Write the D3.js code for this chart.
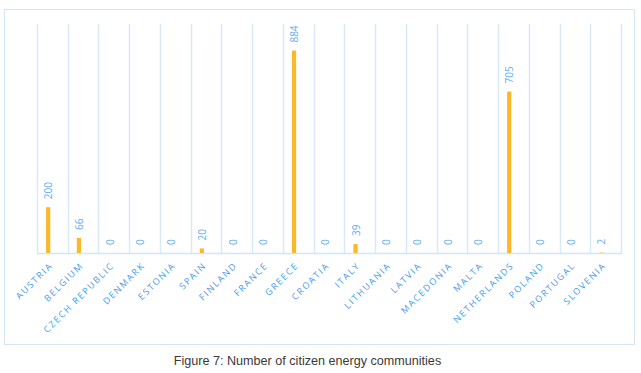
<!DOCTYPE html>
<html>
<head>
<meta charset="utf-8">
<script src="https://cdn.jsdelivr.net/npm/d3@7"></script>
<style>
    body { margin: 0; background: #fff; }
    svg { display: block; }
</style>
</head>
<body>
<svg id="chart" width="641" height="373"></svg>
<script>
    // Data
    const countries = ['AUSTRIA', 'BELGIUM', 'CZECH REPUBLIC', 'DENMARK', 'ESTONIA', 'SPAIN', 'FINLAND',
        'FRANCE', 'GREECE', 'CROATIA', 'ITALY', 'LITHUANIA', 'LATVIA', 'MACEDONIA', 'MALTA',
        'NETHERLANDS', 'POLAND', 'PORTUGAL', 'SLOVENIA'];
    const communities = [200, 66, 0, 0, 0, 20, 0, 0, 884, 0, 39, 0, 0, 0, 0, 705, 0, 0, 2];
    const yDomain = [0, 1000];
    const caption = 'Figure 7: Number of citizen energy communities';

    const svg = d3.select('#chart');
    const plot = { left: 37, right: 621, top: 24, bottom: 253 };

    // Outer frame
    svg.append('rect')
        .attr('x', 4.5).attr('y', 9.5)
        .attr('width', 630).attr('height', 335)
        .attr('fill', 'none')
        .attr('stroke', '#d5e6f6')
        .attr('stroke-width', 1);

    const x = d3.scaleBand()
        .domain(countries)
        .range([plot.left, plot.right]);

    const y = d3.scaleLinear()
        .domain(yDomain)
        .range([plot.bottom, plot.top]);

    // Vertical gridlines at category boundaries
    const bounds = countries.map(c => x(c)).concat([plot.right]);
    svg.append('g')
        .selectAll('line')
        .data(bounds)
        .join('line')
        .attr('x1', d => Math.round(d) + 0.5)
        .attr('x2', d => Math.round(d) + 0.5)
        .attr('y1', plot.top)
        .attr('y2', plot.bottom)
        .attr('stroke', '#d9e9f8')
        .attr('stroke-width', 1.5);

    // Baseline
    svg.append('line')
        .attr('x1', plot.left).attr('x2', plot.right + 1)
        .attr('y1', plot.bottom + 0.5).attr('y2', plot.bottom + 0.5)
        .attr('stroke', '#d3e5f7')
        .attr('stroke-width', 1.5);

    // Bars sit a bit left of the band centre
    const barW = 4.2;
    const barCx = c => x(c) + x.bandwidth() / 2 - 4.2;

    svg.append('g')
        .selectAll('rect')
        .data(countries)
        .join('rect')
        .attr('x', c => barCx(c) - barW / 2)
        .attr('width', barW)
        .attr('y', (c, i) => y(communities[i]))
        .attr('height', (c, i) => plot.bottom - y(communities[i]))
        .attr('fill', '#fbb829');

    // Value labels, rotated
    svg.append('g')
        .selectAll('text')
        .data(countries)
        .join('text')
        .attr('transform', (c, i) => `translate(${barCx(c)},${y(communities[i]) - 8}) rotate(-90)`)
        .attr('dominant-baseline', 'central')
        .attr('font-family', 'Open Sans, Noto Sans, sans-serif')
        .attr('font-size', 10)
        .attr('fill', '#62aef2')
        .text((c, i) => communities[i]);

    // Category labels at 45 degrees
    svg.append('g')
        .selectAll('text')
        .data(countries)
        .join('text')
        .attr('transform', c => `translate(${x(c) + x.bandwidth() / 2 + 1},${plot.bottom + 13}) rotate(-45)`)
        .attr('text-anchor', 'end')
        .attr('font-family', 'Open Sans, Noto Sans, sans-serif')
        .attr('font-size', 9)
        .attr('letter-spacing', 1.7)
        .attr('fill', '#3f9cee')
        .text(c => c);

    // Caption
    svg.append('text')
        .attr('x', 307.5)
        .attr('y', 365)
        .attr('text-anchor', 'middle')
        .attr('font-family', 'Liberation Sans, Arial, sans-serif')
        .attr('font-size', 12.6)
        .attr('fill', '#3a3a3a')
        .text(caption);
</script>
</body>
</html>
